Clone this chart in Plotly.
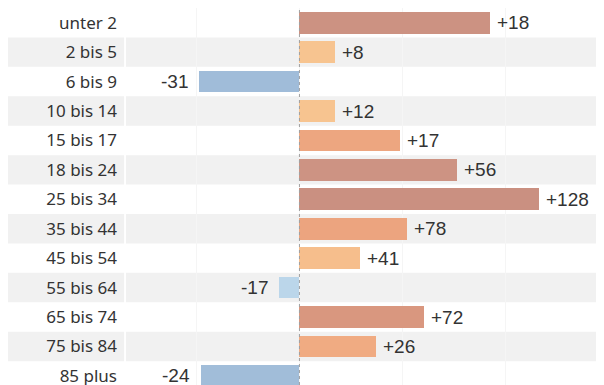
import plotly.graph_objects as go

categories = ["unter 2", "2 bis 5", "6 bis 9", "10 bis 14", "15 bis 17", "18 bis 24",
              "25 bis 34", "35 bis 44", "45 bis 54", "55 bis 64", "65 bis 74",
              "75 bis 84", "85 plus"]
bar_values = [185, 34, -97, 34, 97, 153, 232, 104, 59, -20, 121, 74, -95]
pct_labels = ["+18", "+8", "-31", "+12", "+17", "+56", "+128", "+78", "+41", "-17",
              "+72", "+26", "-24"]

idx = list(range(len(categories)))

# diverging colour ramp keyed to bar length
cmin, cmax = -250, 250
def pos(v):
    return (v - cmin) / (cmax - cmin)
colorscale = [
    [0.0, "#8fb0d2"],
    [pos(-100), "#9fbbd8"],
    [pos(-20), "#bbd6ea"],
    [pos(-0.5), "#c4dcee"],
    [pos(0), "#f8c893"],
    [pos(34), "#f7c490"],
    [pos(59), "#f6be8c"],
    [pos(74), "#f0ab82"],
    [pos(104), "#eca47f"],
    [pos(121), "#d9977f"],
    [pos(153), "#cd9383"],
    [1.0, "#c98f81"],
]

fig = go.Figure()
fig.add_trace(go.Bar(
    x=bar_values, y=idx, orientation="h", width=0.74,
    marker=dict(color=bar_values, colorscale=colorscale, cmin=cmin, cmax=cmax,
                line=dict(width=0)),
    hoverinfo="skip", showlegend=False,
))

shapes = []
for i in idx:
    if i % 2 == 1:
        shapes.append(dict(type="rect", xref="paper", yref="y", x0=-0.249, x1=-0.004,
                           y0=i - 0.5, y1=i + 0.5, fillcolor="#f1f1f1",
                           line=dict(width=0), layer="below"))
        shapes.append(dict(type="rect", xref="paper", yref="y", x0=0.0, x1=1.0,
                           y0=i - 0.5, y1=i + 0.5, fillcolor="#f1f1f1",
                           line=dict(width=0), layer="below"))
shapes.append(dict(type="line", xref="x", yref="paper", x0=0, x1=0, y0=0, y1=1,
                   line=dict(color="#a0a0a0", width=1, dash="dot"), layer="above"))

annotations = []
for i, (v, t) in enumerate(zip(bar_values, pct_labels)):
    annotations.append(dict(
        x=v, y=i, xref="x", yref="y", text=t, showarrow=False,
        xanchor="left" if v >= 0 else "right",
        xshift=5 if v >= 0 else -9,
        font=dict(family="Liberation Sans, Arial, sans-serif", size=19, color="#333333"),
    ))

# the page body has an 8px default margin, so the margins below compensate for it
fig.update_layout(
    width=604, height=385,
    margin=dict(l=118, r=8, t=0, b=8, autoexpand=False),
    paper_bgcolor="white", plot_bgcolor="white",
    shapes=shapes, annotations=annotations,
    bargap=0,
    xaxis=dict(range=[-168, 295], showticklabels=False, ticks="",
               showgrid=True, gridcolor="#f5f5f5", gridwidth=1,
               tick0=0, dtick=100, zeroline=False, showline=False, fixedrange=True,
               automargin=False),
    yaxis=dict(range=[12.31, -0.5], tickvals=idx, ticktext=categories,
               showgrid=False, zeroline=False, showline=False, ticks="",
               ticklabelstandoff=8, automargin=False,
               tickfont=dict(family="Noto Sans, sans-serif", size=17, color="#333333")),
)

fig.write_html("out.html")
